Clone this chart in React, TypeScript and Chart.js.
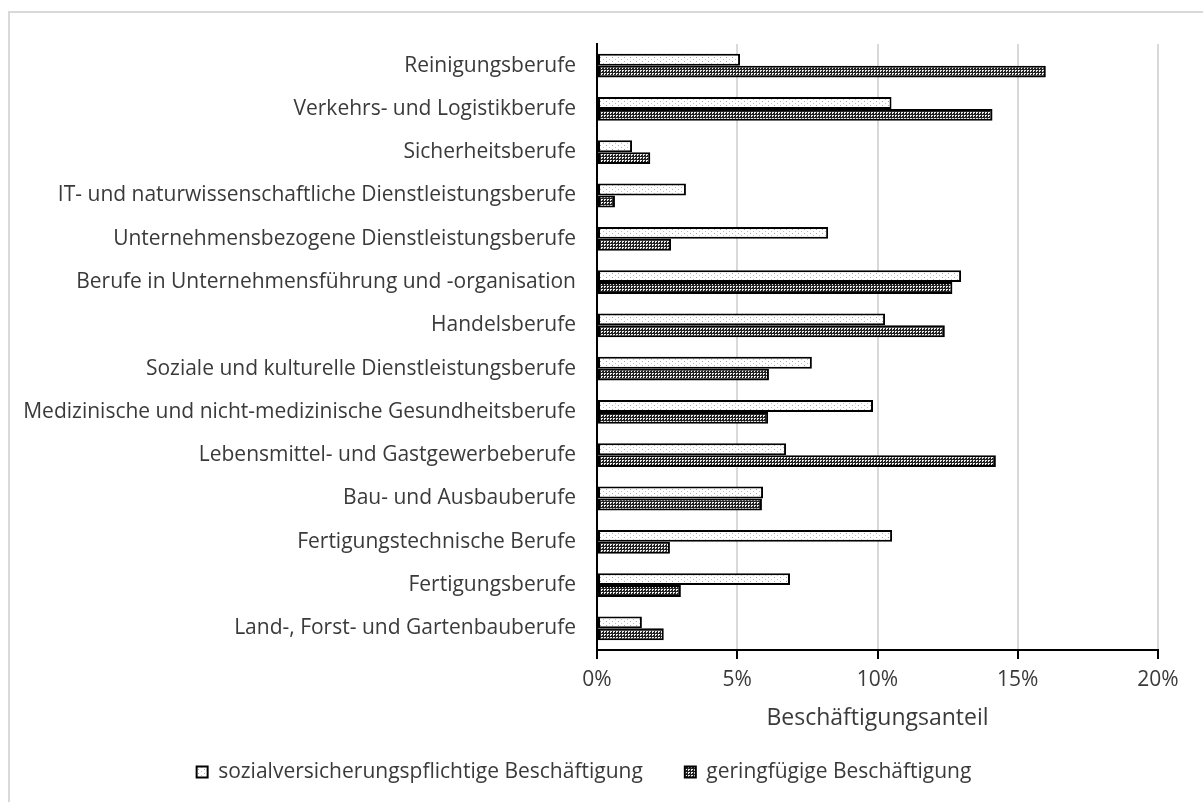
import React, { useEffect, useRef } from 'react';
import { Chart, registerables } from 'chart.js';

Chart.register(...registerables);

const categories = [
  'Reinigungsberufe',
  'Verkehrs- und Logistikberufe',
  'Sicherheitsberufe',
  'IT- und naturwissenschaftliche Dienstleistungsberufe',
  'Unternehmensbezogene Dienstleistungsberufe',
  'Berufe in Unternehmensführung und -organisation',
  'Handelsberufe',
  'Soziale und kulturelle Dienstleistungsberufe',
  'Medizinische und nicht-medizinische Gesundheitsberufe',
  'Lebensmittel- und Gastgewerbeberufe',
  'Bau- und Ausbauberufe',
  'Fertigungstechnische Berufe',
  'Fertigungsberufe',
  'Land-, Forst- und Gartenbauberufe',
];

const svValues = [5.1, 10.5, 1.25, 3.17, 8.24, 12.98, 10.27, 7.66, 9.84, 6.74, 5.92, 10.52, 6.88, 1.6];
const gfValues = [16.0, 14.1, 1.9, 0.64, 2.64, 12.67, 12.4, 6.13, 6.1, 14.22, 5.88, 2.6, 2.99, 2.38];

const seriesNames = ['sozialversicherungspflichtige Beschäftigung', 'geringfügige Beschäftigung'];
const xTicks = [0, 5, 10, 15, 20];
const axisTitle = 'Beschäftigungsanteil';

const TEXT = '#3a3a3a';
const FONT = { family: '"Open Sans", Lato, sans-serif', size: 21 };

function makeLightPattern(ctx: CanvasRenderingContext2D) {
  const c = document.createElement('canvas');
  c.width = 6;
  c.height = 4;
  const g = c.getContext('2d')!;
  g.fillStyle = '#ffffff';
  g.fillRect(0, 0, 6, 4);
  g.fillStyle = '#a8a8a8';
  g.fillRect(0, 1, 1, 1);
  g.fillStyle = '#c0c0c0';
  g.fillRect(3, 3, 1, 1);
  return ctx.createPattern(c, 'repeat')!;
}

function makeDarkPattern(ctx: CanvasRenderingContext2D) {
  const c = document.createElement('canvas');
  c.width = 3;
  c.height = 3;
  const g = c.getContext('2d')!;
  g.fillStyle = '#222222';
  g.fillRect(0, 0, 3, 3);
  g.fillStyle = '#eeeeee';
  g.fillRect(1, 1, 2, 1);
  g.fillRect(1, 2, 1, 1);
  return ctx.createPattern(c, 'repeat')!;
}

export default function App() {
  const ref = useRef<HTMLCanvasElement>(null);

  useEffect(() => {
    const canvas = ref.current!;
    const ctx = canvas.getContext('2d')!;
    const light = makeLightPattern(ctx);
    const dark = makeDarkPattern(ctx);

    const chart = new Chart(canvas, {
      type: 'bar',
      data: {
        labels: categories,
        datasets: [
          {
            label: seriesNames[0],
            data: svValues,
            backgroundColor: light,
            borderColor: '#000000',
            borderWidth: 2,
            borderSkipped: false,
          },
          {
            label: seriesNames[1],
            data: gfValues,
            backgroundColor: dark,
            borderColor: '#000000',
            borderWidth: 2,
            borderSkipped: false,
          },
        ],
      },
      options: {
        indexAxis: 'y',
        responsive: false,
        animation: false,
        layout: { padding: { left: 10, right: 45, top: 44, bottom: 9.5 } },
        datasets: { bar: { categoryPercentage: 0.55, barPercentage: 1 } },
        scales: {
          x: {
            min: 0,
            max: 20,
            afterBuildTicks: (scale: any) => {
              scale.ticks = xTicks.map((v) => ({ value: v }));
            },
            ticks: {
              callback: (v: any) => v + '%',
              padding: 8,
              color: TEXT,
              font: FONT,
            },
            grid: {
              color: (c: any) => (c.tick && c.tick.value === 0 ? 'rgba(0,0,0,0)' : '#d9d9d9'),
              lineWidth: 2,
              tickColor: '#000000',
              tickWidth: 2,
              tickLength: 9,
              drawTicks: true,
            },
            border: { display: true, color: '#000000', width: 2 },
            title: {
              display: true,
              text: axisTitle,
              color: TEXT,
              font: { ...FONT, size: 23 },
              padding: { top: 0, bottom: -13 },
            },
            afterFit: (s: any) => {
              s.height = 69.5;
            },
          },
          y: {
            grid: { display: false, drawTicks: false },
            border: { display: true, color: '#000000', width: 2 },
            ticks: { padding: 21, autoSkip: false, color: TEXT, font: FONT },
            afterFit: (s: any) => {
              s.width = 587;
            },
          },
        },
        plugins: {
          legend: {
            position: 'bottom',
            labels: { boxWidth: 11, boxHeight: 11, padding: 42, color: TEXT, font: FONT },
          },
          tooltip: { enabled: false },
        },
      },
    });
    return () => chart.destroy();
  }, []);

  return (
    <div style={{ position: 'fixed', left: 0, top: 0, width: 1203, height: 802, background: '#ffffff', overflow: 'hidden' }}>
      <div
        style={{
          position: 'absolute',
          left: 8,
          top: 11,
          width: 1300,
          height: 900,
          borderLeft: '2px solid #d9d9d9',
          borderTop: '2px solid #d9d9d9',
        }}
      />
      <canvas ref={ref} width={1203} height={802} style={{ position: 'absolute', left: 0, top: 0 }} />
    </div>
  );
}
